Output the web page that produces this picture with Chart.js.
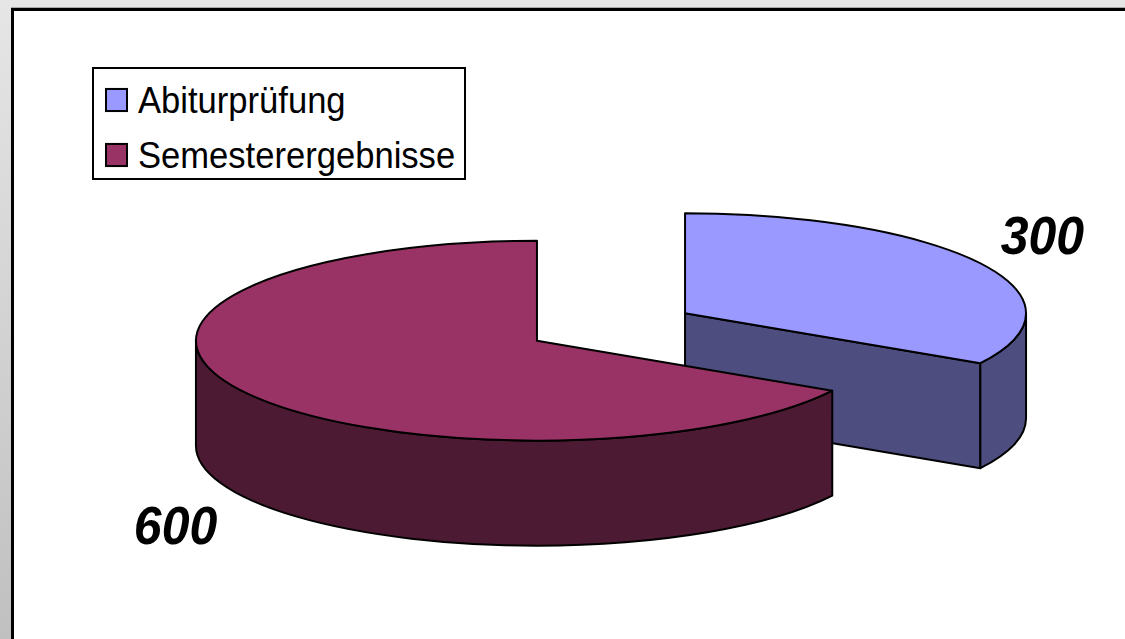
<!DOCTYPE html>
<html lang="de">
<head>
<meta charset="utf-8">
<title>Abiturprüfung / Semesterergebnisse</title>
<script src="https://cdn.jsdelivr.net/npm/chart.js@4/dist/chart.umd.min.js"></script>
<style>
  html, body { margin: 0; height: 100%; overflow: hidden; }
  body {
    position: relative; width: 1125px; height: 639px;
    background: linear-gradient(#e6e6e6, #c0c0c0);
  }
  .frame {
    position: absolute; left: 11px; top: 8px; width: 1114px; height: 631px;
    background: #fff; border-left: 3px solid #000; border-top: 3px solid #000;
    box-sizing: border-box; box-shadow: 0 -1px 0 #aaa;
  }
  #pie { position: absolute; left: 0; top: 0; }
  .legend {
    position: absolute; left: 92px; top: 67px; width: 374px; height: 113px;
    box-sizing: border-box; border: 2px solid #000; background: #fff;
    font: 34.6px "Liberation Sans", Arial, sans-serif; color: #000;
  }
  .legend div { position: absolute; left: 44px; white-space: nowrap; line-height: 40px; transform: scaleY(1.09); }
  .legend i {
    position: absolute; left: -33px; top: 8px; width: 23px; height: 24px;
    box-sizing: border-box; border: 2px solid #000;
    transform: scaleY(0.92);
  }
</style>
</head>
<body>
<div class="frame"></div>
<canvas id="pie" width="1125" height="639"></canvas>
<div class="legend" id="legend"></div>
<script>
// ── Data ──
const categories = ['Abiturprüfung', 'Semesterergebnisse'];
const values = [300, 600];
const topColors = ['#9999ff', '#993366'];
const sideColors = ['#4d4d80', '#4d1a33'];

// ── 3D look ──
const squash = 0.293;   // how flat the ellipse is
const depth = 105;      // height of the cylinder
const explodeX = 85.5;  // slice pulled out from centre
const explodeY = 27.5;

// Where the tip of a slice ends up on screen
function apexOf(arc) {
  const mid = (arc.startAngle + arc.endAngle) / 2;
  return {
    mid,
    x: arc.x + Math.cos(mid) * explodeX,
    y: arc.y + Math.sin(mid) * explodeY
  };
}

function edge(a, r, angle) {
  return { x: a.x + Math.cos(angle) * r, y: a.y + Math.sin(angle) * r * squash };
}

function drawCutFace(ctx, a, r, angle, color) {
  const p = edge(a, r, angle);
  ctx.beginPath();
  ctx.moveTo(a.x, a.y);
  ctx.lineTo(p.x, p.y);
  ctx.lineTo(p.x, p.y + depth);
  ctx.lineTo(a.x, a.y + depth);
  ctx.closePath();
  ctx.fillStyle = color;
  ctx.fill();
  ctx.stroke();
}

function drawOuterWall(ctx, a, r, from, to, color) {
  const p = edge(a, r, to);
  ctx.beginPath();
  ctx.ellipse(a.x, a.y, r, r * squash, 0, from, to);
  ctx.lineTo(p.x, p.y + depth);
  ctx.ellipse(a.x, a.y + depth, r, r * squash, 0, to, from, true);
  ctx.closePath();
  ctx.fillStyle = color;
  ctx.fill();
  ctx.stroke();
}

const pie3d = {
  id: 'pie3d',
  beforeDatasetDraw(chart) {
    const ctx = chart.ctx;
    const arcs = chart.getDatasetMeta(0).data;
    ctx.save();
    ctx.lineWidth = 2;
    ctx.strokeStyle = '#000';
    ctx.lineJoin = 'round';
    arcs.forEach((arc, i) => {
      const a = apexOf(arc);
      const r = arc.outerRadius;

      // flat faces where the slice was cut
      if (Math.cos(arc.endAngle) > 0.001) drawCutFace(ctx, a, r, arc.endAngle, sideColors[i]);
      if (Math.cos(arc.startAngle) < -0.001) drawCutFace(ctx, a, r, arc.startAngle, sideColors[i]);

      // round wall, only the part that faces the viewer
      const from = Math.max(arc.startAngle, 0);
      const to = Math.min(arc.endAngle, Math.PI);
      if (to > from) drawOuterWall(ctx, a, r, from, to, sideColors[i]);

      // top of the slice is the library's own arc, flattened
      ctx.save();
      ctx.translate(a.x, a.y);
      ctx.scale(1, squash);
      ctx.translate(-arc.x, -arc.y);
      arc.draw(ctx);
      ctx.restore();

      ctx.beginPath();
      ctx.moveTo(a.x, a.y);
      ctx.ellipse(a.x, a.y, r, r * squash, 0, arc.startAngle, arc.endAngle);
      ctx.closePath();
      ctx.stroke();
    });

    // value labels
    ctx.fillStyle = '#000';
    ctx.font = 'italic bold 50px "Liberation Sans", Arial, sans-serif';
    ctx.textAlign = 'center';
    ctx.textBaseline = 'middle';
    arcs.forEach((arc, i) => {
      const a = apexOf(arc);
      const front = Math.sin(a.mid) > 0;
      const p = edge(a, arc.outerRadius * 1.2, a.mid);
      ctx.save();
      ctx.translate(p.x + (front ? -7 : 3), p.y + (front ? depth + 23 : -14));
      ctx.scale(1, 1.08);
      ctx.fillText(values[i], 0, 0);
      ctx.restore();
    });
    ctx.restore();
    return false;
  }
};

// ── Pie ──
const pieChart = new Chart(document.getElementById('pie'), {
  type: 'pie',
  data: {
    labels: categories,
    datasets: [{
      data: values,
      backgroundColor: topColors,
      borderWidth: 0,
      hoverOffset: 0
    }]
  },
  options: {
    responsive: false,
    animation: false,
    radius: 341,
    layout: { padding: { left: 97, top: 15 } },
    events: [],
    plugins: {
      legend: { display: false },
      tooltip: { enabled: false }
    }
  },
  plugins: [pie3d]
});

// ── Legend box ──
const legendBox = document.getElementById('legend');
categories.forEach((name, i) => {
  const row = document.createElement('div');
  row.style.top = (11 + i * 55) + 'px';
  row.innerHTML = `<i style="background:${topColors[i]}"></i>${name}`;
  legendBox.appendChild(row);
});
</script>
</body>
</html>
